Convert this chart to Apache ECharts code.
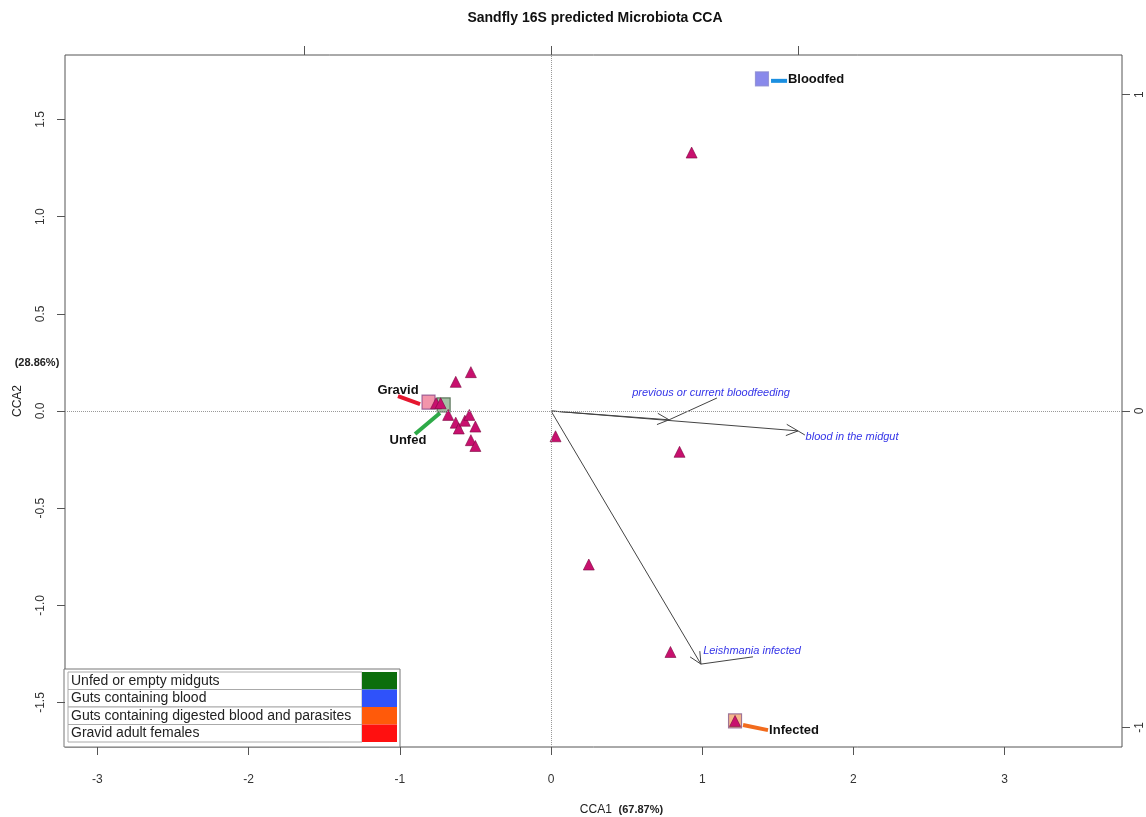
<!DOCTYPE html>
<html>
<head>
<meta charset="utf-8">
<title>Sandfly 16S predicted Microbiota CCA</title>
<script src="https://cdn.jsdelivr.net/npm/echarts@6/dist/echarts.min.js"></script>
<style>
  html, body { margin: 0; padding: 0; background: #fff; }
  #echart { width: 1146px; height: 817px; }
</style>
</head>
<body>
<div id="echart"></div>
<script>
// sample scores (CCA1, CCA2)
var sampleX = [0.93, 0.85, 0.03, 0.25, 0.79, 1.217, -0.53, -0.63, -0.76, -0.73, -0.68, -0.63, -0.61, -0.57, -0.54, -0.50, -0.53, -0.50];
var sampleY = [1.33, -0.21, -0.13, -0.79, -1.24, -1.595, 0.20, 0.15, 0.04, 0.04, -0.02, -0.06, -0.09, -0.05, -0.02, -0.08, -0.15, -0.18];

// group centroids and their labels
var groupNames = ['Gravid', 'Unfed', 'Bloodfed', 'Infected'];
var centroidX = [-0.81, -0.71, 1.395, 1.217];
var centroidY = [0.046, 0.031, 1.709, -1.595];
var segFromX = [-0.866, -0.734, 1.455, 1.270];
var segFromY = [0.036, -0.010, 1.699, -1.616];
var segToX = [-1.012, -0.899, 1.561, 1.435];
var segToY = [0.077, -0.118, 1.699, -1.642];
var groupLabelX = [-1.012, -0.946, 1.753, 1.607];
var groupLabelY = [0.108, -0.149, 1.704, -1.642];

// environmental vectors (biplot scale, top/right axes)
var arrowNames = ['blood in the midgut', 'previous or current bloodfeeding', 'Leishmania infected'];
var arrowX = [1.0, 0.478, 0.607];
var arrowY = [-0.063, -0.028, -0.80];
var arrowLabelX = [1.219, 0.648, 0.814];
var arrowLabelY = [-0.082, 0.057, -0.758];
var leaderX = [1.028, 0.672, 0.818];
var leaderY = [-0.076, 0.041, -0.777];

// ticks
var xTicks = [-3, -2, -1, 0, 1, 2, 3];
var yTicks = [-1.5, -1, -0.5, 0, 0.5, 1, 1.5];
var biTicks = [-1, 0, 1];

// legend table
var legendLabels = ['Unfed or empty midguts', 'Guts containing blood', 'Guts containing digested blood and parasites', 'Gravid adult females'];
var legendColors = ['#0C6E0C', '#2F52FA', '#FF5A0A', '#FF1010'];

var FONT = '"Liberation Sans", Arial, sans-serif';
var segColors = ['#E5172F', '#2EAA48', '#1B8FE0', '#F26B1D'];
var boxFill = ['#F07A96', '#8FB08F', '#6B6BE6', '#F2A46E'];
var boxBorder = ['#8A4A8A', '#3E5E3E', '#8A8AD0', '#8A5A8A'];

var myChart = echarts.init(document.getElementById('echart'));

var samples = [];
for (var i = 0; i < sampleX.length; i++) {
    samples.push([sampleX[i], sampleY[i]]);
}

var centroids = [];
var groupSegs = [];
for (var i = 0; i < groupNames.length; i++) {
    centroids.push({
        value: [centroidX[i], centroidY[i]],
        itemStyle: { color: boxFill[i], borderColor: boxBorder[i], borderWidth: 1.2 }
    });
    groupSegs.push([segFromX[i], segFromY[i], segToX[i], segToY[i], groupLabelX[i], groupLabelY[i]]);
}

var arrows = [];
for (var i = 0; i < arrowNames.length; i++) {
    arrows.push([arrowX[i], arrowY[i], arrowLabelX[i], arrowLabelY[i], leaderX[i], leaderY[i]]);
}

// legend drawn as a small table
var legendGraphic = [{
    type: 'rect', shape: { x: 64, y: 669, width: 336, height: 78 },
    style: { fill: '#fff', stroke: '#777', lineWidth: 1 }
}];
for (var i = 0; i < legendLabels.length; i++) {
    var rowTop = 672 + i * 17.5;
    legendGraphic.push({
        type: 'rect', shape: { x: 68, y: rowTop, width: 294, height: 17.5 },
        style: { fill: '#fff', stroke: '#aaa', lineWidth: 1 }
    });
    legendGraphic.push({
        type: 'rect', shape: { x: 362, y: rowTop, width: 35, height: 17.5 },
        style: { fill: legendColors[i] }
    });
    legendGraphic.push({
        type: 'text', x: 71, y: rowTop + 9,
        style: { text: legendLabels[i], font: '14px ' + FONT, fill: '#222', verticalAlign: 'middle' }
    });
}

var option = {
    animation: false,
    backgroundColor: '#fff',
    graphic: [{
        type: 'text', x: 595, y: 18,
        style: { text: 'Sandfly 16S predicted Microbiota CCA', font: 'bold 14px ' + FONT, fill: '#111', align: 'center', verticalAlign: 'middle' }
    }, {
        type: 'text', x: 37, y: 363,
        style: { text: '(28.86%)', font: 'bold 11px ' + FONT, fill: '#222', align: 'center', verticalAlign: 'middle' }
    }].concat(legendGraphic),
    grid: {
        left: 65, right: 24, top: 55, bottom: 70,
        outerBoundsMode: 'none',
        show: true, borderColor: '#555', borderWidth: 1
    },
    xAxis: [{
        type: 'value', position: 'bottom',
        min: -3.214, max: 3.776,
        name: '{a|CCA1}  {b|(67.87%)}',
        nameLocation: 'middle', nameGap: 57,
        nameTextStyle: {
            padding: [0, 0, 0, 56],
            rich: {
                a: { fontSize: 12, fontFamily: FONT, color: '#222' },
                b: { fontSize: 11, fontFamily: FONT, fontWeight: 'bold', color: '#222' }
            }
        },
        axisLine: { show: false, onZero: false },
        axisTick: { show: true, length: 8, customValues: xTicks, lineStyle: { color: '#555' } },
        axisLabel: { customValues: xTicks, margin: 27, fontSize: 12, fontFamily: FONT, color: '#333' },
        splitLine: { show: false }
    }, {
        type: 'value', position: 'top',
        min: -1.968, max: 2.312,
        axisLine: { show: false, onZero: false },
        axisTick: { show: true, length: 9, customValues: biTicks, lineStyle: { color: '#555' } },
        axisLabel: { show: false },
        splitLine: { show: false }
    }],
    yAxis: [{
        type: 'value', position: 'left',
        min: -1.729, max: 1.832,
        name: 'CCA2', nameLocation: 'middle', nameGap: 41,
        nameTextStyle: { fontSize: 12, fontFamily: FONT, color: '#222' },
        axisLine: { show: false, onZero: false },
        axisTick: { show: true, length: 8, customValues: yTicks, lineStyle: { color: '#555' } },
        axisLabel: {
            customValues: yTicks, rotate: 90, margin: 18,
            fontSize: 12, fontFamily: FONT, color: '#333',
            formatter: function (v) { return v.toFixed(1); }
        },
        splitLine: { show: false }
    }, {
        type: 'value', position: 'right',
        min: -1.062, max: 1.125,
        axisLine: { show: false, onZero: false },
        axisTick: { show: true, length: 8, customValues: biTicks, lineStyle: { color: '#555' } },
        axisLabel: { customValues: biTicks, rotate: 90, margin: 12, fontSize: 12, fontFamily: FONT, color: '#333' },
        splitLine: { show: false }
    }],
    series: [
        {
            // vectors
            type: 'custom',
            xAxisIndex: 1, yAxisIndex: 1,
            data: arrows,
            silent: true,
            renderItem: function (params, api) {
                var o = api.coord([0, 0]);
                var t = api.coord([api.value(0), api.value(1)]);
                var lab = api.coord([api.value(2), api.value(3)]);
                var lead = api.coord([api.value(4), api.value(5)]);
                var ang = Math.atan2(t[1] - o[1], t[0] - o[0]);
                var L = 13, a = Math.PI / 7;
                var p1 = [t[0] - L * Math.cos(ang - a), t[1] - L * Math.sin(ang - a)];
                var p2 = [t[0] - L * Math.cos(ang + a), t[1] - L * Math.sin(ang + a)];
                return {
                    type: 'group',
                    children: [
                        { type: 'line', shape: { x1: o[0], y1: o[1], x2: t[0], y2: t[1] }, style: { stroke: '#444', lineWidth: 1 } },
                        { type: 'polyline', shape: { points: [p1, t, p2] }, style: { stroke: '#444', fill: 'none', lineWidth: 1 } },
                        { type: 'line', shape: { x1: t[0], y1: t[1], x2: lead[0], y2: lead[1] }, style: { stroke: '#444', lineWidth: 1 } },
                        {
                            type: 'text', x: lab[0], y: lab[1],
                            style: { text: arrowNames[params.dataIndex], font: 'italic 11px ' + FONT, fill: '#3535E8', align: 'center', verticalAlign: 'middle' }
                        }
                    ]
                };
            }
        },
        {
            // group label segments
            type: 'custom',
            data: groupSegs,
            silent: true,
            renderItem: function (params, api) {
                var a = api.coord([api.value(0), api.value(1)]);
                var b = api.coord([api.value(2), api.value(3)]);
                var lab = api.coord([api.value(4), api.value(5)]);
                return {
                    type: 'group',
                    children: [
                        { type: 'line', shape: { x1: a[0], y1: a[1], x2: b[0], y2: b[1] }, style: { stroke: segColors[params.dataIndex], lineWidth: 4 } },
                        {
                            type: 'text', x: lab[0], y: lab[1],
                            style: { text: groupNames[params.dataIndex], font: 'bold 13px ' + FONT, fill: '#111', align: 'center', verticalAlign: 'middle' }
                        }
                    ]
                };
            }
        },
        {
            // centroids
            type: 'scatter',
            symbol: 'rect',
            symbolSize: [13, 14],
            data: centroids,
            z: 3
        },
        {
            // samples
            type: 'scatter',
            symbol: 'triangle',
            symbolSize: 11,
            data: samples,
            itemStyle: { color: '#C8106E', borderColor: '#7A0840', borderWidth: 0.6, opacity: 1 },
            z: 4,
            markLine: {
                silent: true,
                symbol: ['none', 'none'],
                label: { show: false },
                lineStyle: { type: 'dotted', color: '#999', width: 1 },
                data: [{ xAxis: 0 }, { yAxis: 0 }]
            }
        }
    ]
};
myChart.setOption(option);
</script>
</body>
</html>
